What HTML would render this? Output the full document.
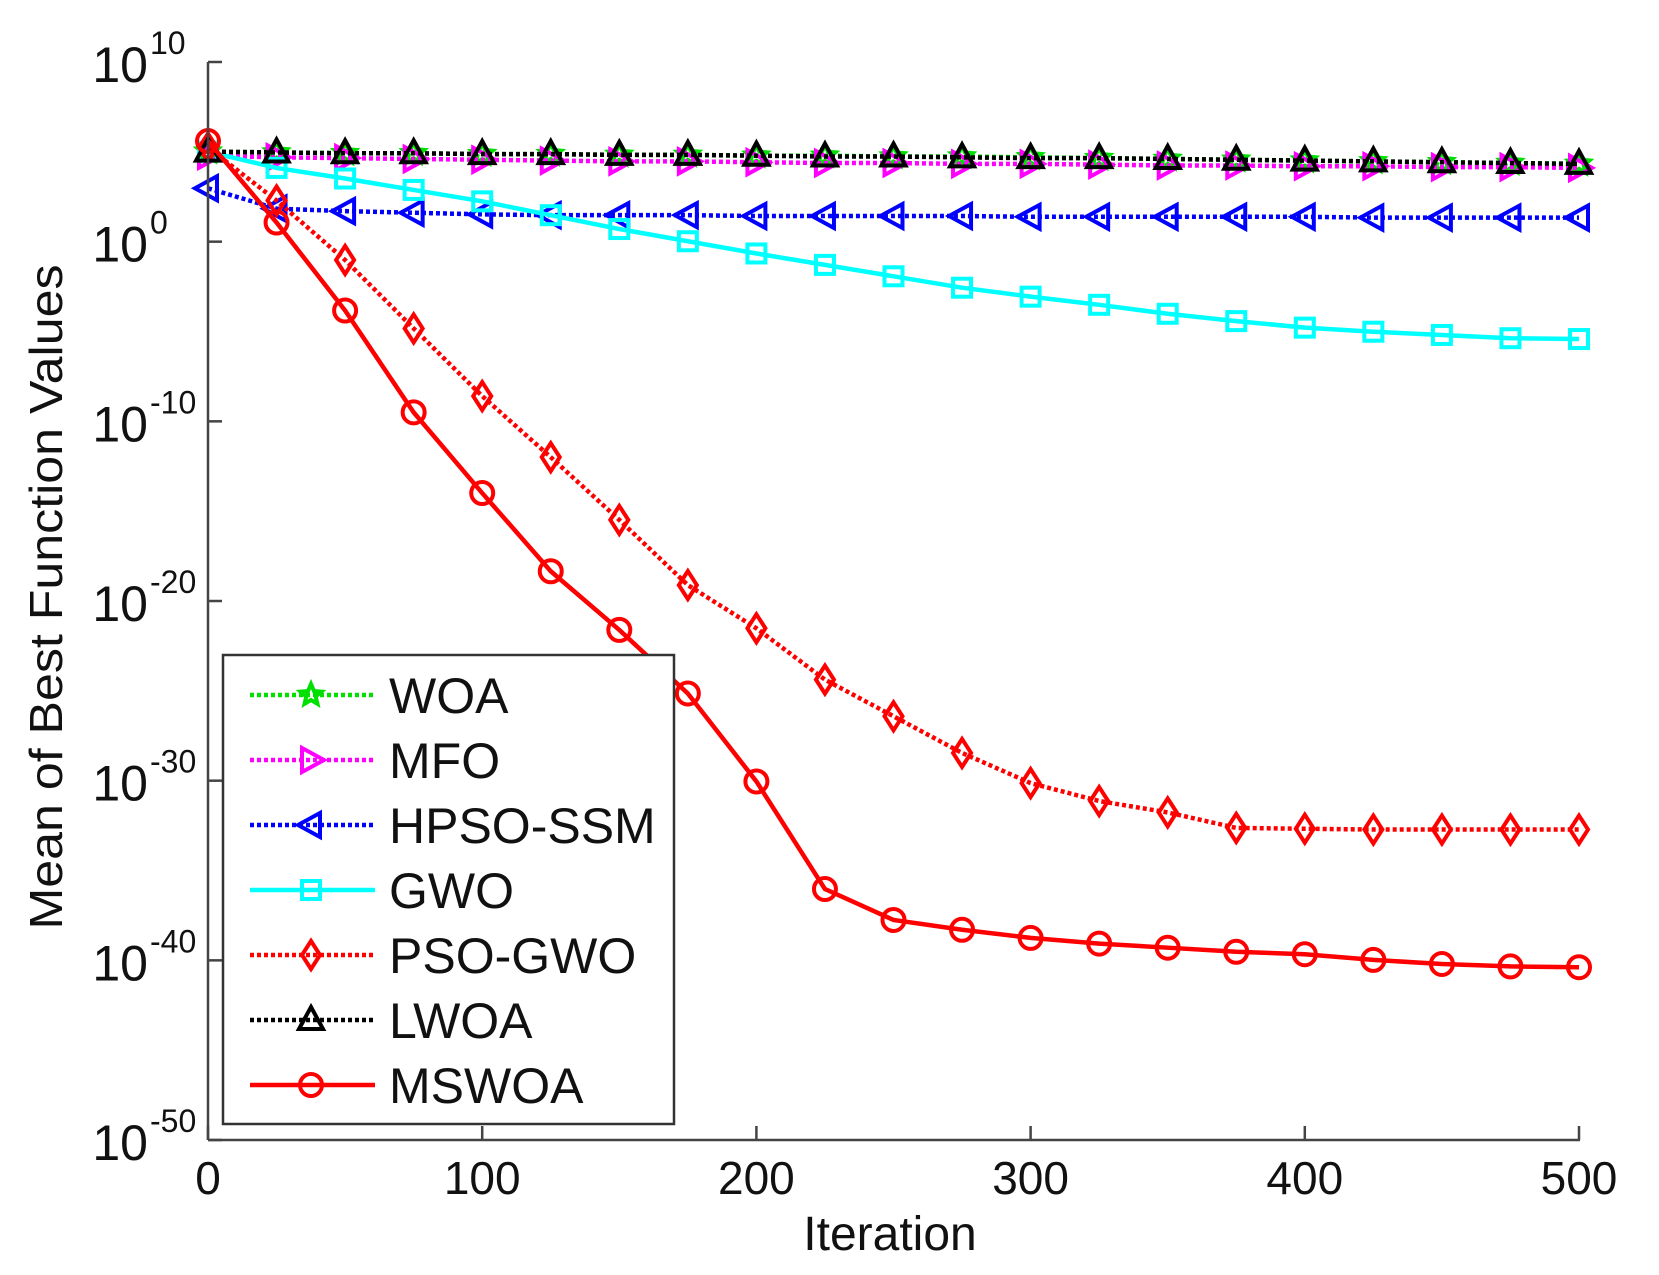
<!DOCTYPE html>
<html><head><meta charset="utf-8"><style>
html,body{margin:0;padding:0;background:#fff;}
svg{display:block;font-family:"Liberation Sans",Arial,sans-serif;}
</style></head><body>
<svg id="s" width="1659" height="1275" viewBox="0 0 1659 1275" xmlns="http://www.w3.org/2000/svg">
<rect width="1659" height="1275" fill="#fff"/>
<g id="plot"></g>
<line x1="208" y1="62" x2="208" y2="1140" stroke="#444" stroke-width="2.5"/>
<line x1="208" y1="1140" x2="1580" y2="1140" stroke="#444" stroke-width="2.5"/>
<g id="ticks" stroke="#444" stroke-width="2.5"></g>
<g font-size="50" fill="#111" text-anchor="end" id="ylab"></g>
<g font-size="46" fill="#111" text-anchor="middle" id="xlab"></g>
<text x="890" y="1250" font-size="48" text-anchor="middle" fill="#111">Iteration</text>
<text transform="translate(62,597) rotate(-90)" font-size="46" text-anchor="middle" fill="#111" textLength="665" lengthAdjust="spacingAndGlyphs">Mean of Best Function Values</text>
<g id="legend">
<rect x="223" y="655" width="451" height="469" fill="#fff" stroke="#333" stroke-width="2.5"/>
</g>
</svg>
<script>
const NS="http://www.w3.org/2000/svg";
function el(t,a,p){const e=document.createElementNS(NS,t);for(const k in a)e.setAttribute(k,a[k]);(p||document.getElementById('plot')).appendChild(e);return e;}
const X=i=>208+i*1371/500;
const Yz=y=>62+(y-75)*0.8148;
const ticks=document.getElementById('ticks');
for(let k=0;k<=6;k++){const y=62+k*179.67;el('line',{x1:208,y1:y,x2:222,y2:y},ticks);
 const g=document.getElementById('ylab');
 const t=el('text',{x:148,y:y+20},g);t.textContent='10';
 const s=el('text',{x:150,y:y-8,'font-size':32,'text-anchor':'start'},g);s.textContent=(k==0?'10':(k==1?'0':(-(k-1)*10)+''));}
for(let i=0;i<=500;i+=100){const x=X(i);el('line',{x1:x,y1:1140,x2:x,y2:1126},ticks);
 const t=el('text',{x:x,y:1194},document.getElementById('xlab'));t.textContent=i;}
const D='4,3';
const S=[
 {n:'WOA',c:'#00e000',d:D,m:'star',y:[185,186,187,187,188,188,189,189,190,190,191,191,192,193,194,195,196,197,198,199,200]},
 {n:'MFO',c:'#ff00ff',d:D,m:'rtri',y:[190,192,193,194,195,196,197,197,198,199,199,200,200,201,202,202,203,203,204,204,205]},
 {n:'HPSO-SSM',c:'#0000ff',d:D,m:'ltri',y:[230,255,258,260,262,263,263,263,264,264,264,264,265,265,265,265,265,266,266,266,266]},
 {n:'GWO',c:'#00ffff',d:'',m:'sq',y:[185,205,218,232,246,263,280,295,310,324,338,352,363,373,384,393,401,406,410,414,415]},
 {n:'PSO-GWO',c:'#ff0000',d:D,m:'dia',y:[180,245,318,402,485,560,637,717,770,833,878,923,960,982,996,1015,1016,1017,1017,1017,1017]},
 {n:'LWOA',c:'#000000',d:D,m:'tri',y:[185,186,187,187,188,188,189,189,190,191,191,192,193,193,194,195,196,197,198,199,200]},
 {n:'MSWOA',c:'#ff0000',d:'',m:'circ',y:[172,272,380,505,604,700,772,850,958,1090,1128,1140,1150,1157,1162,1167,1170,1177,1182,1185,1186]}
];
function marker(m,x,y,c,g){const a={fill:'none',stroke:c,'stroke-width':4};const r=11;
 if(m=='circ')el('circle',Object.assign({cx:x,cy:y,r:r},a),g);
 else if(m=='sq')el('rect',Object.assign({x:x-9,y:y-9,width:18,height:18},a),g);
 else{let p;
  if(m=='dia')p=[[x,y-14],[x+9,y],[x,y+14],[x-9,y]];
  if(m=='tri')p=[[x,y-13],[x+12,y+9],[x-12,y+9]];
  if(m=='ltri')p=[[x-13,y],[x+9,y-12],[x+9,y+12]];
  if(m=='rtri')p=[[x+13,y],[x-9,y-12],[x-9,y+12]];
  if(m=='star'){p=[];for(let k=0;k<10;k++){const rr=k%2?5:11,an=-Math.PI/2+k*Math.PI/5;p.push([x+rr*Math.cos(an),y+rr*Math.sin(an)]);}}
  el('polygon',Object.assign({points:p.map(q=>q.join(',')).join(' ')},a),g);}
}
for(const s of S){const pts=s.y.map((v,i)=>[X(i*25),Yz(v)]);
 el('polyline',{points:pts.map(p=>p.join(',')).join(' '),fill:'none',stroke:s.c,'stroke-width':4.5,'stroke-dasharray':s.d});
 pts.forEach(p=>marker(s.m,p[0],p[1],s.c));}
const L=document.getElementById('legend');
S.forEach((s,i)=>{const y=695+i*65;
 el('line',{x1:250,y1:y,x2:375,y2:y,stroke:s.c,'stroke-width':4.5,'stroke-dasharray':s.d},L);
 marker(s.m,311,y,s.c,L);
 const t=el('text',{x:389,y:y+18,'font-size':50,fill:'#111'},L);t.textContent=s.n;});
</script>
</body></html>
